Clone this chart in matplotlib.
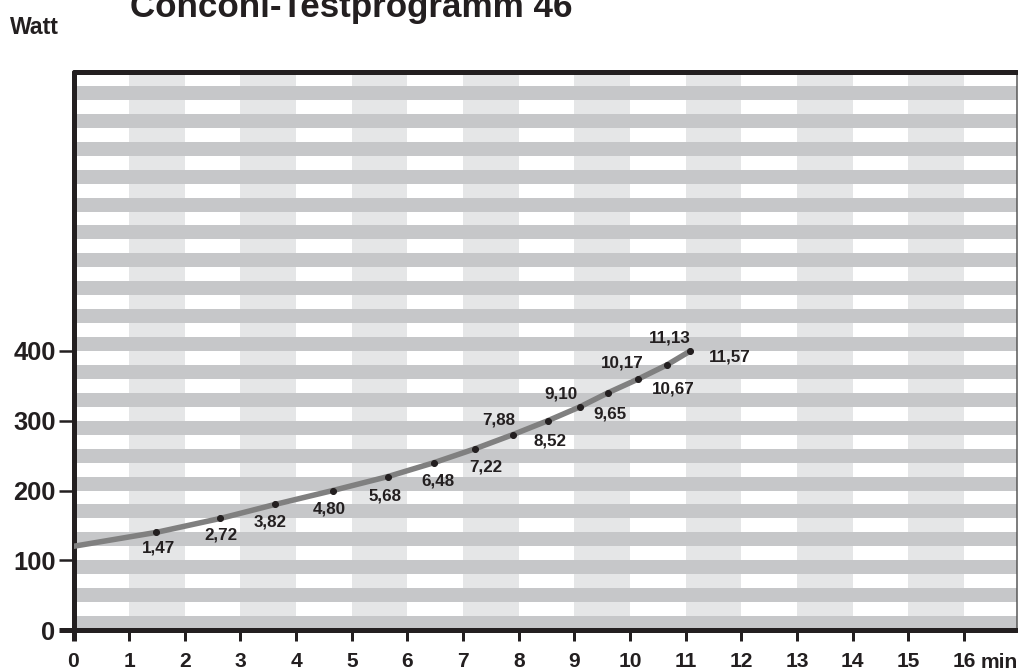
import matplotlib as mpl
mpl.use('Agg')
import matplotlib.pyplot as plt

# data
start_watt = 120
dot_min = [1.49, 2.64, 3.62, 4.66, 5.65, 6.48, 7.22, 7.89, 8.52, 9.10, 9.60, 10.15, 10.66, 11.08]
dot_watt = [140, 160, 180, 200, 220, 240, 260, 280, 300, 320, 340, 360, 380, 400]
time_labels = ["1,47", "2,72", "3,82", "4,80", "5,68", "6,48", "7,22", "7,88",
               "8,52", "9,10", "9,65", "10,17", "10,67", "11,13", "11,57"]
y_ticks = [0, 100, 200, 300, 400]
x_ticks = list(range(0, 17))

# label offsets in pixels (dx, dy up), dpi 72 so points == pixels
label_offsets = [(2, -16), (0, -17), (-5, -18), (-4, -18), (-3, -19), (4, -18), (10, -18),
                 (-14, 15), (2, -20), (-19, 13), (2, -21), (-16, 16), (6, -24), (-21, 13), (39, -6)]

INK = '#231f20'
BAND = '#c6c7c9'
LIGHT = '#e5e6e7'
FONT = ['Liberation Sans', 'DejaVu Sans']

plt.rcParams['font.family'] = FONT
plt.rcParams['font.weight'] = 'bold'

fig = plt.figure(figsize=(1018 / 72, 670 / 72), dpi=72)
ax = fig.add_axes([73.5 / 1018, 40 / 670, (1017 - 73.5) / 1018, (630 - 72) / 670])
ax.set_xlim(0, 16.95)
ax.set_ylim(0, 800)

# background: light columns, then grey horizontal bands
for c in range(1, 16, 2):
    ax.axvspan(c, c + 1, color=LIGHT, lw=0, zorder=0)
for b in range(0, 800, 40):
    ax.axhspan(b, b + 20, color=BAND, lw=0, zorder=1)

# curve + dots
ax.plot([0] + dot_min, [start_watt] + dot_watt, color='#808080', lw=5.5,
        solid_capstyle='round', solid_joinstyle='round', zorder=3)
ax.plot(dot_min, dot_watt, 'o', color=INK, ms=6, zorder=4)

for i, lab in enumerate(time_labels):
    k = min(i, len(dot_min) - 1)
    ax.annotate(lab, (dot_min[k], dot_watt[k]), xytext=label_offsets[i],
                textcoords='offset points', ha='center', va='center',
                fontsize=17, fontweight='bold', color=INK, zorder=5)

# spines
for s in ['left', 'bottom', 'top']:
    ax.spines[s].set_linewidth(5)
    ax.spines[s].set_color(INK)
    ax.spines[s].set_capstyle('round')
ax.spines['right'].set_linewidth(1.5)
ax.spines['right'].set_color('#555555')

ax.set_yticks(y_ticks)
ax.set_xticks(x_ticks)
ax.tick_params(axis='y', length=15, width=2.5, color=INK, pad=3,
               labelsize=25.5, labelcolor=INK)
ax.tick_params(axis='x', length=11, width=3, color=INK, pad=11,
               labelsize=21, labelcolor=INK)
ax.yaxis.get_major_ticks()[0].tick1line.set_markeredgewidth(5)
ax.xaxis.get_major_ticks()[0].tick1line.set_markeredgewidth(5)
for t in ax.get_xticklabels() + ax.get_yticklabels():
    t.set_fontweight('bold')

# "min" unit on the tick label row
ax.text(16.64, -(662 - 630) / 558, 'min', transform=ax.get_xaxis_transform(),
        ha='center', va='center', fontsize=21, fontweight='bold', color=INK)

fig.text(130 / 1018, 1 - 17 / 670, 'Conconi-Testprogramm 46', ha='left', va='baseline',
         fontsize=35, fontweight='bold', color=INK)
fig.text(10 / 1018, 1 - 34 / 670, 'Watt', ha='left', va='baseline',
         fontsize=23, fontweight='bold', color=INK)

fig.savefig('out.png', dpi=72)
